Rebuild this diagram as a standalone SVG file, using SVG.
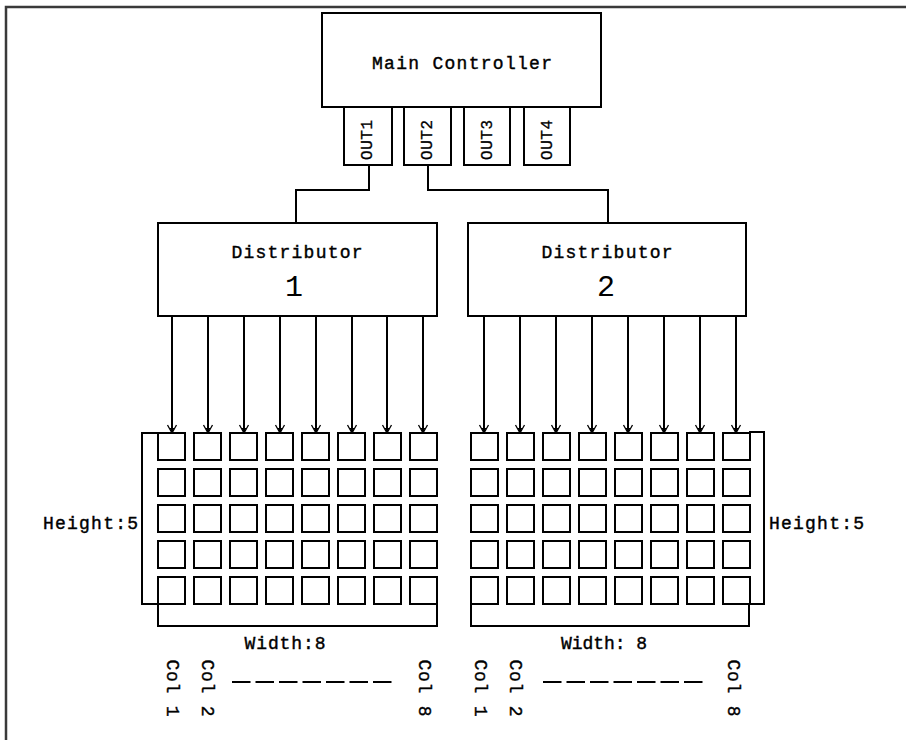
<svg xmlns="http://www.w3.org/2000/svg" width="906" height="740" viewBox="0 0 906 740">
<defs>
<style>
.box{fill:#fff;stroke:#000;stroke-width:2}
.cell{fill:#fff;stroke:#000;stroke-width:2}
.ln{fill:none;stroke:#000;stroke-width:2}
.t{font-family:"Liberation Mono","DejaVu Sans Mono",monospace;font-size:18px;fill:#000;stroke:#000;stroke-width:0.4}
.big{font-family:"Liberation Mono","DejaVu Sans Mono",monospace;font-size:30px;fill:#000}
.small{font-family:"Liberation Mono","DejaVu Sans Mono",monospace;font-size:16px;fill:#000;stroke:#000;stroke-width:0.3}
</style>
<marker id="arr" viewBox="-10 -6 11 12" refX="0" refY="0" markerWidth="11" markerHeight="12" markerUnits="userSpaceOnUse" orient="auto">
<path d="M-8,-4.5 L0,0 L-8,4.5" fill="none" stroke="#000" stroke-width="1.3"/>
<path d="M-5,-2.5 L0,0 L-5,2.5 Z" fill="#000"/>
</marker>
</defs>
<rect width="906" height="740" fill="#fff"/>
<path d="M6,740 V7 H906" fill="none" stroke="#3a3a3a" stroke-width="2.5"/>

<g id="main-controller">
<rect class="box" x="322" y="13" width="279" height="94"/>
<text class="t" x="462" y="69" text-anchor="middle" textLength="180" lengthAdjust="spacing">Main Controller</text>
</g>
<g id="out1"><rect class="box" x="344" y="107" width="48" height="58"/><text class="small" transform="translate(368,140) rotate(-90)" text-anchor="middle" dominant-baseline="central" textLength="40">OUT1</text></g>
<g id="out2"><rect class="box" x="404" y="107" width="47" height="58"/><text class="small" transform="translate(428,140) rotate(-90)" text-anchor="middle" dominant-baseline="central" textLength="40">OUT2</text></g>
<g id="out3"><rect class="box" x="464" y="107" width="46" height="58"/><text class="small" transform="translate(488,140) rotate(-90)" text-anchor="middle" dominant-baseline="central" textLength="40">OUT3</text></g>
<g id="out4"><rect class="box" x="524" y="107" width="46" height="58"/><text class="small" transform="translate(548,140) rotate(-90)" text-anchor="middle" dominant-baseline="central" textLength="40">OUT4</text></g>

<g id="distributor-1">
<rect class="box" x="158" y="223" width="279" height="93"/>
<text class="t" x="297" y="258" text-anchor="middle" textLength="131" lengthAdjust="spacing">Distributor</text>
<text class="big" x="294" y="296" text-anchor="middle">1</text>
</g>
<g id="distributor-2">
<rect class="box" x="468" y="223" width="278" height="93"/>
<text class="t" x="607" y="258" text-anchor="middle" textLength="131" lengthAdjust="spacing">Distributor</text>
<text class="big" x="606" y="296" text-anchor="middle">2</text>
</g>

<g id="connectors">
<path class="ln" d="M369,165 V190 H296 V223"/>
<path class="ln" d="M428,165 V190 H608 V223"/>
<g marker-end="url(#arr)">
<path class="ln" d="M172,316 V433"/><path class="ln" d="M208,316 V433"/><path class="ln" d="M244,316 V433"/><path class="ln" d="M280,316 V433"/>
<path class="ln" d="M316,316 V433"/><path class="ln" d="M352,316 V433"/><path class="ln" d="M387,316 V433"/><path class="ln" d="M423,316 V433"/>
<path class="ln" d="M484,316 V433"/><path class="ln" d="M520,316 V433"/><path class="ln" d="M556,316 V433"/><path class="ln" d="M592,316 V433"/>
<path class="ln" d="M628,316 V433"/><path class="ln" d="M664,316 V433"/><path class="ln" d="M700,316 V433"/><path class="ln" d="M736,316 V433"/>
</g>
</g>

<g id="grid-1">
<path class="ln" d="M158,433 H142 V604 H158"/>
<path class="ln" d="M158,604 V626 H437 V604"/>
<g>
<rect class="cell" x="158" y="433" width="27" height="27"/><rect class="cell" x="194" y="433" width="27" height="27"/><rect class="cell" x="230" y="433" width="27" height="27"/><rect class="cell" x="266" y="433" width="27" height="27"/><rect class="cell" x="302" y="433" width="27" height="27"/><rect class="cell" x="338" y="433" width="27" height="27"/><rect class="cell" x="374" y="433" width="27" height="27"/><rect class="cell" x="410" y="433" width="27" height="27"/>
<rect class="cell" x="158" y="469" width="27" height="27"/><rect class="cell" x="194" y="469" width="27" height="27"/><rect class="cell" x="230" y="469" width="27" height="27"/><rect class="cell" x="266" y="469" width="27" height="27"/><rect class="cell" x="302" y="469" width="27" height="27"/><rect class="cell" x="338" y="469" width="27" height="27"/><rect class="cell" x="374" y="469" width="27" height="27"/><rect class="cell" x="410" y="469" width="27" height="27"/>
<rect class="cell" x="158" y="505" width="27" height="27"/><rect class="cell" x="194" y="505" width="27" height="27"/><rect class="cell" x="230" y="505" width="27" height="27"/><rect class="cell" x="266" y="505" width="27" height="27"/><rect class="cell" x="302" y="505" width="27" height="27"/><rect class="cell" x="338" y="505" width="27" height="27"/><rect class="cell" x="374" y="505" width="27" height="27"/><rect class="cell" x="410" y="505" width="27" height="27"/>
<rect class="cell" x="158" y="541" width="27" height="27"/><rect class="cell" x="194" y="541" width="27" height="27"/><rect class="cell" x="230" y="541" width="27" height="27"/><rect class="cell" x="266" y="541" width="27" height="27"/><rect class="cell" x="302" y="541" width="27" height="27"/><rect class="cell" x="338" y="541" width="27" height="27"/><rect class="cell" x="374" y="541" width="27" height="27"/><rect class="cell" x="410" y="541" width="27" height="27"/>
<rect class="cell" x="158" y="577" width="27" height="27"/><rect class="cell" x="194" y="577" width="27" height="27"/><rect class="cell" x="230" y="577" width="27" height="27"/><rect class="cell" x="266" y="577" width="27" height="27"/><rect class="cell" x="302" y="577" width="27" height="27"/><rect class="cell" x="338" y="577" width="27" height="27"/><rect class="cell" x="374" y="577" width="27" height="27"/><rect class="cell" x="410" y="577" width="27" height="27"/>
</g>
<text class="t" x="43" y="529" textLength="95" lengthAdjust="spacing">Height:5</text>
<text class="t" x="285" y="649" text-anchor="middle" textLength="81" lengthAdjust="spacing">Width:8</text>
<text class="t" transform="translate(172,688) rotate(90)" text-anchor="middle" dominant-baseline="central" textLength="57" lengthAdjust="spacing">Col 1</text>
<text class="t" transform="translate(207,688) rotate(90)" text-anchor="middle" dominant-baseline="central" textLength="57" lengthAdjust="spacing">Col 2</text>
<text class="t" transform="translate(424,688) rotate(90)" text-anchor="middle" dominant-baseline="central" textLength="57" lengthAdjust="spacing">Col 8</text>
<path d="M232,682 H393" stroke="#000" stroke-width="2" stroke-dasharray="18.5,5"/>
</g>

<g id="grid-2">
<path class="ln" d="M749,432 H764 V604 H749"/>
<path class="ln" d="M471,604 V626 H749 V604"/>
<g>
<rect class="cell" x="471" y="433" width="27" height="27"/><rect class="cell" x="507" y="433" width="27" height="27"/><rect class="cell" x="543" y="433" width="27" height="27"/><rect class="cell" x="579" y="433" width="27" height="27"/><rect class="cell" x="615" y="433" width="27" height="27"/><rect class="cell" x="651" y="433" width="27" height="27"/><rect class="cell" x="687" y="433" width="27" height="27"/><rect class="cell" x="723" y="433" width="27" height="27"/>
<rect class="cell" x="471" y="469" width="27" height="27"/><rect class="cell" x="507" y="469" width="27" height="27"/><rect class="cell" x="543" y="469" width="27" height="27"/><rect class="cell" x="579" y="469" width="27" height="27"/><rect class="cell" x="615" y="469" width="27" height="27"/><rect class="cell" x="651" y="469" width="27" height="27"/><rect class="cell" x="687" y="469" width="27" height="27"/><rect class="cell" x="723" y="469" width="27" height="27"/>
<rect class="cell" x="471" y="505" width="27" height="27"/><rect class="cell" x="507" y="505" width="27" height="27"/><rect class="cell" x="543" y="505" width="27" height="27"/><rect class="cell" x="579" y="505" width="27" height="27"/><rect class="cell" x="615" y="505" width="27" height="27"/><rect class="cell" x="651" y="505" width="27" height="27"/><rect class="cell" x="687" y="505" width="27" height="27"/><rect class="cell" x="723" y="505" width="27" height="27"/>
<rect class="cell" x="471" y="541" width="27" height="27"/><rect class="cell" x="507" y="541" width="27" height="27"/><rect class="cell" x="543" y="541" width="27" height="27"/><rect class="cell" x="579" y="541" width="27" height="27"/><rect class="cell" x="615" y="541" width="27" height="27"/><rect class="cell" x="651" y="541" width="27" height="27"/><rect class="cell" x="687" y="541" width="27" height="27"/><rect class="cell" x="723" y="541" width="27" height="27"/>
<rect class="cell" x="471" y="577" width="27" height="27"/><rect class="cell" x="507" y="577" width="27" height="27"/><rect class="cell" x="543" y="577" width="27" height="27"/><rect class="cell" x="579" y="577" width="27" height="27"/><rect class="cell" x="615" y="577" width="27" height="27"/><rect class="cell" x="651" y="577" width="27" height="27"/><rect class="cell" x="687" y="577" width="27" height="27"/><rect class="cell" x="723" y="577" width="27" height="27"/>
</g>
<text class="t" x="769" y="529" textLength="95" lengthAdjust="spacing">Height:5</text>
<text class="t" x="604" y="649" text-anchor="middle" textLength="86" lengthAdjust="spacing">Width: 8</text>
<text class="t" transform="translate(480,688) rotate(90)" text-anchor="middle" dominant-baseline="central" textLength="57" lengthAdjust="spacing">Col 1</text>
<text class="t" transform="translate(515,688) rotate(90)" text-anchor="middle" dominant-baseline="central" textLength="57" lengthAdjust="spacing">Col 2</text>
<text class="t" transform="translate(733,688) rotate(90)" text-anchor="middle" dominant-baseline="central" textLength="57" lengthAdjust="spacing">Col 8</text>
<path d="M543,682 H705" stroke="#000" stroke-width="2" stroke-dasharray="18.5,5"/>
</g>
</svg>
